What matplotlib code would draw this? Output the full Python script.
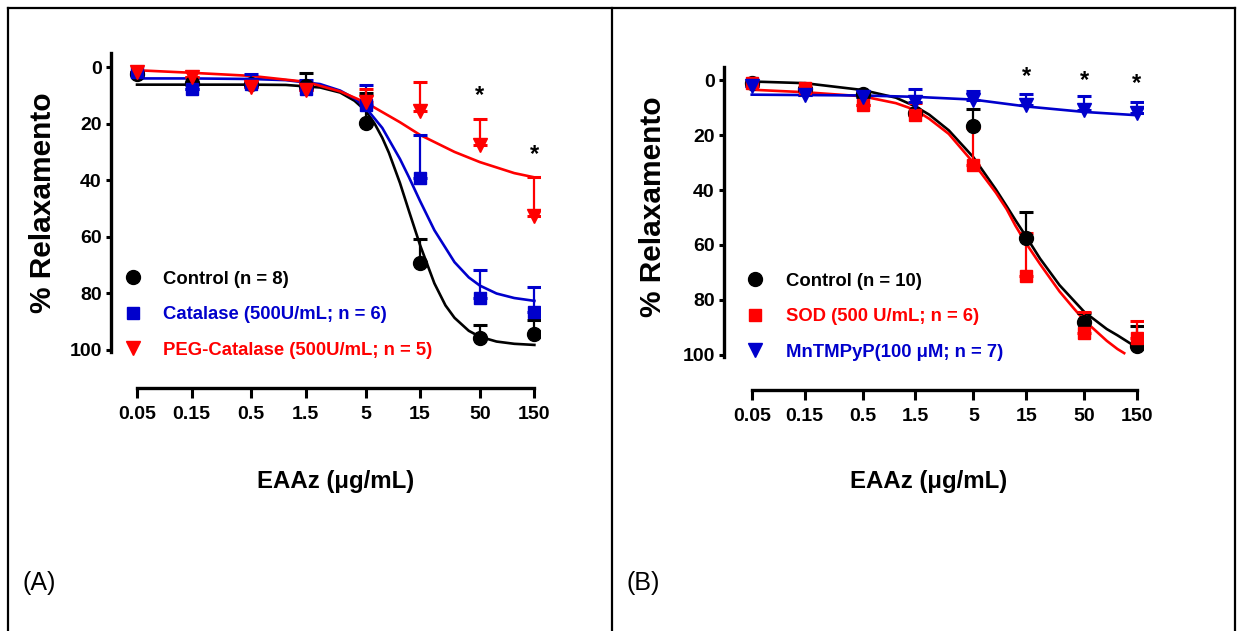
import numpy as np
import matplotlib
matplotlib.use('Agg')
import matplotlib.pyplot as plt
from matplotlib.lines import Line2D

# concentrations (ug/mL) and tick labels
conc = [0.05, 0.15, 0.5, 1.5, 5, 15, 50, 150]
conc_labels = ['0.05', '0.15', '0.5', '1.5', '5', '15', '50', '150']

# Panel A - means (% relaxamento) and SEM (drawn one-sided)
ctrlA = [2.5, 5.5, 6.0, 6.5, 19.6, 69.3, 95.9, 94.3]
ctrlA_err = [0, 0, 0, 4.6, 10.3, 8.6, 4.7, 4.7]
catA = [1.7, 7.6, 5.8, 7.6, 13.5, 39.3, 81.8, 86.6]
catA_err = [0, 0, 3.3, 3.0, 7.3, 15.3, 10.1, 8.8]
pegA = [1.7, 3.4, 7.2, 8.0, 12.3, 15.6, 27.5, 52.5]
pegA_err = [0, 0, 0, 0, 4.7, 10.3, 9.0, 13.6]

# Panel A - fitted curves
ctrlA_fit_x = [0.05, 0.15, 0.5, 1, 2, 3, 4, 5, 6, 7, 8, 10, 12, 15, 20, 25, 30, 40, 50, 70, 100, 150]
ctrlA_fit_y = [6.2, 6.2, 6.2, 6.3, 7.2, 9.0, 11.9, 15.4, 20.0, 25, 30.3, 41, 51, 63, 76.5,
               84.3, 88.7, 93.3, 95.4, 97.1, 97.9, 98.3]
catA_fit_x = [0.05, 0.15, 0.5, 1, 2, 3, 4, 5, 7, 10, 12, 15, 20, 30, 40, 50, 70, 100, 150]
catA_fit_y = [4.0, 4.0, 4.2, 4.6, 6.0, 8.3, 11.1, 14.3, 21.5, 32.5, 39, 47.4, 57.7, 69,
              74.4, 77.3, 80.1, 81.7, 82.7]
pegA_fit_x = [0.05, 0.15, 0.5, 1.5, 3, 5, 10, 15, 30, 50, 100, 150]
pegA_fit_y = [1.1, 2.0, 3.1, 5.2, 8.6, 12.5, 19.5, 24, 30, 33.6, 37.5, 39]

starsA_x = [50, 150]
starsA_y = [10.0, 31.0]

# Panel B
ctrlB = [1.0, 3.0, 5.0, 12.0, 16.8, 57.5, 88.0, 97.0]
ctrlB_err = [0, 0, 0, 0, 6.4, 9.4, 3.2, 7.3]
sodB = [1.0, 2.8, 8.9, 12.5, 31.0, 71.5, 92.0, 94.0]
sodB_err = [0, 0, 0, 4.2, 13.6, 16.0, 7.5, 6.4]
mnB = [2.2, 5.3, 6.0, 7.8, 7.3, 9.0, 10.8, 11.9]
mnB_err = [0, 0, 0, 4.8, 3.3, 4.0, 5.0, 4.0]

ctrlB_fit_x = [0.05, 0.15, 0.5, 1, 1.5, 2, 3, 5, 8, 10, 12, 15, 20, 30, 50, 80, 100, 150]
ctrlB_fit_y = [0.4, 1.0, 3.5, 6.3, 9.5, 12.5, 18.2, 28, 39.8, 45.9, 51, 57, 65, 74.7,
               84.4, 90.7, 93, 97.5]
sodB_fit_x = [0.05, 0.15, 0.5, 1, 1.5, 2, 3, 5, 8, 10, 12, 15, 20, 30, 40, 50, 80, 100, 115]
sodB_fit_y = [3.4, 4.3, 5.8, 8.3, 10.8, 14.0, 19.5, 30.0, 41, 47, 53, 59.5, 67, 77, 83,
              87.5, 95, 98, 99.5]
mnB_fit_x = [0.05, 0.5, 1.5, 5, 15, 50, 150]
mnB_fit_y = [5.2, 5.5, 6.0, 7.0, 9.5, 11.5, 12.7]

starsB_x = [15, 50, 150]
starsB_y = [-1.4, 0.0, 1.3]

BLACK = 'black'
BLUE = '#0000CC'
RED = '#FF0000'
FONT = ['Liberation Sans', 'DejaVu Sans']

W, H = 1240, 631
fig = plt.figure(figsize=(W / 100, H / 100), dpi=100)


def px(x0, y0, x1, y1):
    # pixel box -> figure fraction rect
    return [x0 / W, 1 - y1 / H, (x1 - x0) / W, (y1 - y0) / H]


def series(ax, x, y, err, fx, fy, color, marker, ms):
    ax.plot(fx, fy, color=color, lw=1.9, zorder=2)
    ax.errorbar(x, y, yerr=[err, np.zeros(len(err))], fmt=marker, color=color,
                ms=ms, elinewidth=1.6, capsize=5, capthick=2.2, zorder=3)


def style(ax, xlim, outward, ylab_xy, xlab_xy):
    ax.set_xscale('log')
    ax.set_xlim(*xlim)
    ax.set_ylim(100.8, -5)
    for s in ['top', 'right']:
        ax.spines[s].set_visible(False)
    ax.spines['left'].set_linewidth(2.4)
    ax.spines['bottom'].set_linewidth(2.4)
    ax.spines['bottom'].set_position(('outward', outward))
    ax.spines['bottom'].set_bounds(0.05, 150)
    ax.set_xticks(conc)
    ax.set_xticklabels(conc_labels)
    ax.xaxis.set_minor_locator(matplotlib.ticker.NullLocator())
    ax.set_yticks([0, 20, 40, 60, 80, 100])
    ax.tick_params(axis='x', length=7, width=2.2, pad=6)
    ax.tick_params(axis='y', length=3.6, width=2.2, pad=3)
    for lab in ax.get_xticklabels() + ax.get_yticklabels():
        lab.set_family(FONT)
        lab.set_fontweight('bold')
        lab.set_fontsize(14)
    ax.set_xlabel('EAAz (\u03bcg/mL)', family=FONT, fontweight='bold', fontsize=17.3)
    ax.xaxis.set_label_coords(*xlab_xy)
    ax.set_ylabel('% Relaxamento', family=FONT, fontweight='bold', fontsize=21.5)
    ax.yaxis.set_label_coords(*ylab_xy)


def legend(ax, items, anchor, pad):
    handles = [Line2D([], [], ls='none', marker=m, color=c, ms=ms) for _, c, m, ms in items]
    leg = ax.legend(handles, [t for t, _, _, _ in items], loc='upper left',
                    bbox_to_anchor=anchor, frameon=False, borderpad=0,
                    borderaxespad=0, handlelength=1.0, handletextpad=pad,
                    labelspacing=1.0,
                    prop={'family': FONT, 'weight': 'bold', 'size': 13.3})
    for t, (_, c, _, _) in zip(leg.get_texts(), items):
        t.set_color(c)


# ---- Panel A
axA = fig.add_axes(px(111, 53, 540, 352))
series(axA, conc, ctrlA, ctrlA_err, ctrlA_fit_x, ctrlA_fit_y, BLACK, 'o', 10)
series(axA, conc, catA, catA_err, catA_fit_x, catA_fit_y, BLUE, 's', 9)
series(axA, conc, pegA, pegA_err, pegA_fit_x, pegA_fit_y, RED, 'v', 10)
style(axA, (0.0296, 168), 26, (-0.126, 0.5), (0.524, -0.395))
for x, y in zip(starsA_x, starsA_y):
    axA.text(x, y, '*', ha='center', va='center', fontsize=17, fontweight='bold',
             family=FONT)
legend(axA, [('Control (n = 8)', BLACK, 'o', 10),
             ('Catalase (500U/mL; n = 6)', BLUE, 's', 9),
             ('PEG-Catalase (500U/mL; n = 5)', RED, 'v', 10)], (0.030, 0.272), 1.12)

# ---- Panel B
axB = fig.add_axes(px(724, 66.7, 1143, 356.7))
series(axB, conc, ctrlB, ctrlB_err, ctrlB_fit_x, ctrlB_fit_y, BLACK, 'o', 10)
series(axB, conc, sodB, sodB_err, sodB_fit_x, sodB_fit_y, RED, 's', 9)
series(axB, conc, mnB, mnB_err, mnB_fit_x, mnB_fit_y, BLUE, 'v', 10)
style(axB, (0.0281, 170), 24, (-0.136, 0.516), (0.489, -0.391))
for x, y in zip(starsB_x, starsB_y):
    axB.text(x, y, '*', ha='center', va='center', fontsize=17, fontweight='bold',
             family=FONT)
legend(axB, [('Control (n = 10)', BLACK, 'o', 10),
             ('SOD (500 U/mL; n = 6)', RED, 's', 9),
             ('MnTMPyP(100 \u03bcM; n = 7)', BLUE, 'v', 10)], (0.052, 0.289), 1.17)

# panel letters
fig.text(22 / W, 1 - 583 / H, '(A)', family=FONT, fontsize=18, va='center')
fig.text(627 / W, 1 - 583 / H, '(B)', family=FONT, fontsize=18, va='center')

# table frame around the two panels
frame = [((8, 8), (1235, 8)), ((8, 8), (8, 631)), ((612, 8), (612, 631)),
         ((1235, 8), (1235, 631))]
for (x0, y0), (x1, y1) in frame:
    fig.add_artist(Line2D([x0 / W, x1 / W], [1 - y0 / H, 1 - y1 / H],
                          transform=fig.transFigure, color='black', lw=1.6))

fig.savefig('out.png', dpi=100)
